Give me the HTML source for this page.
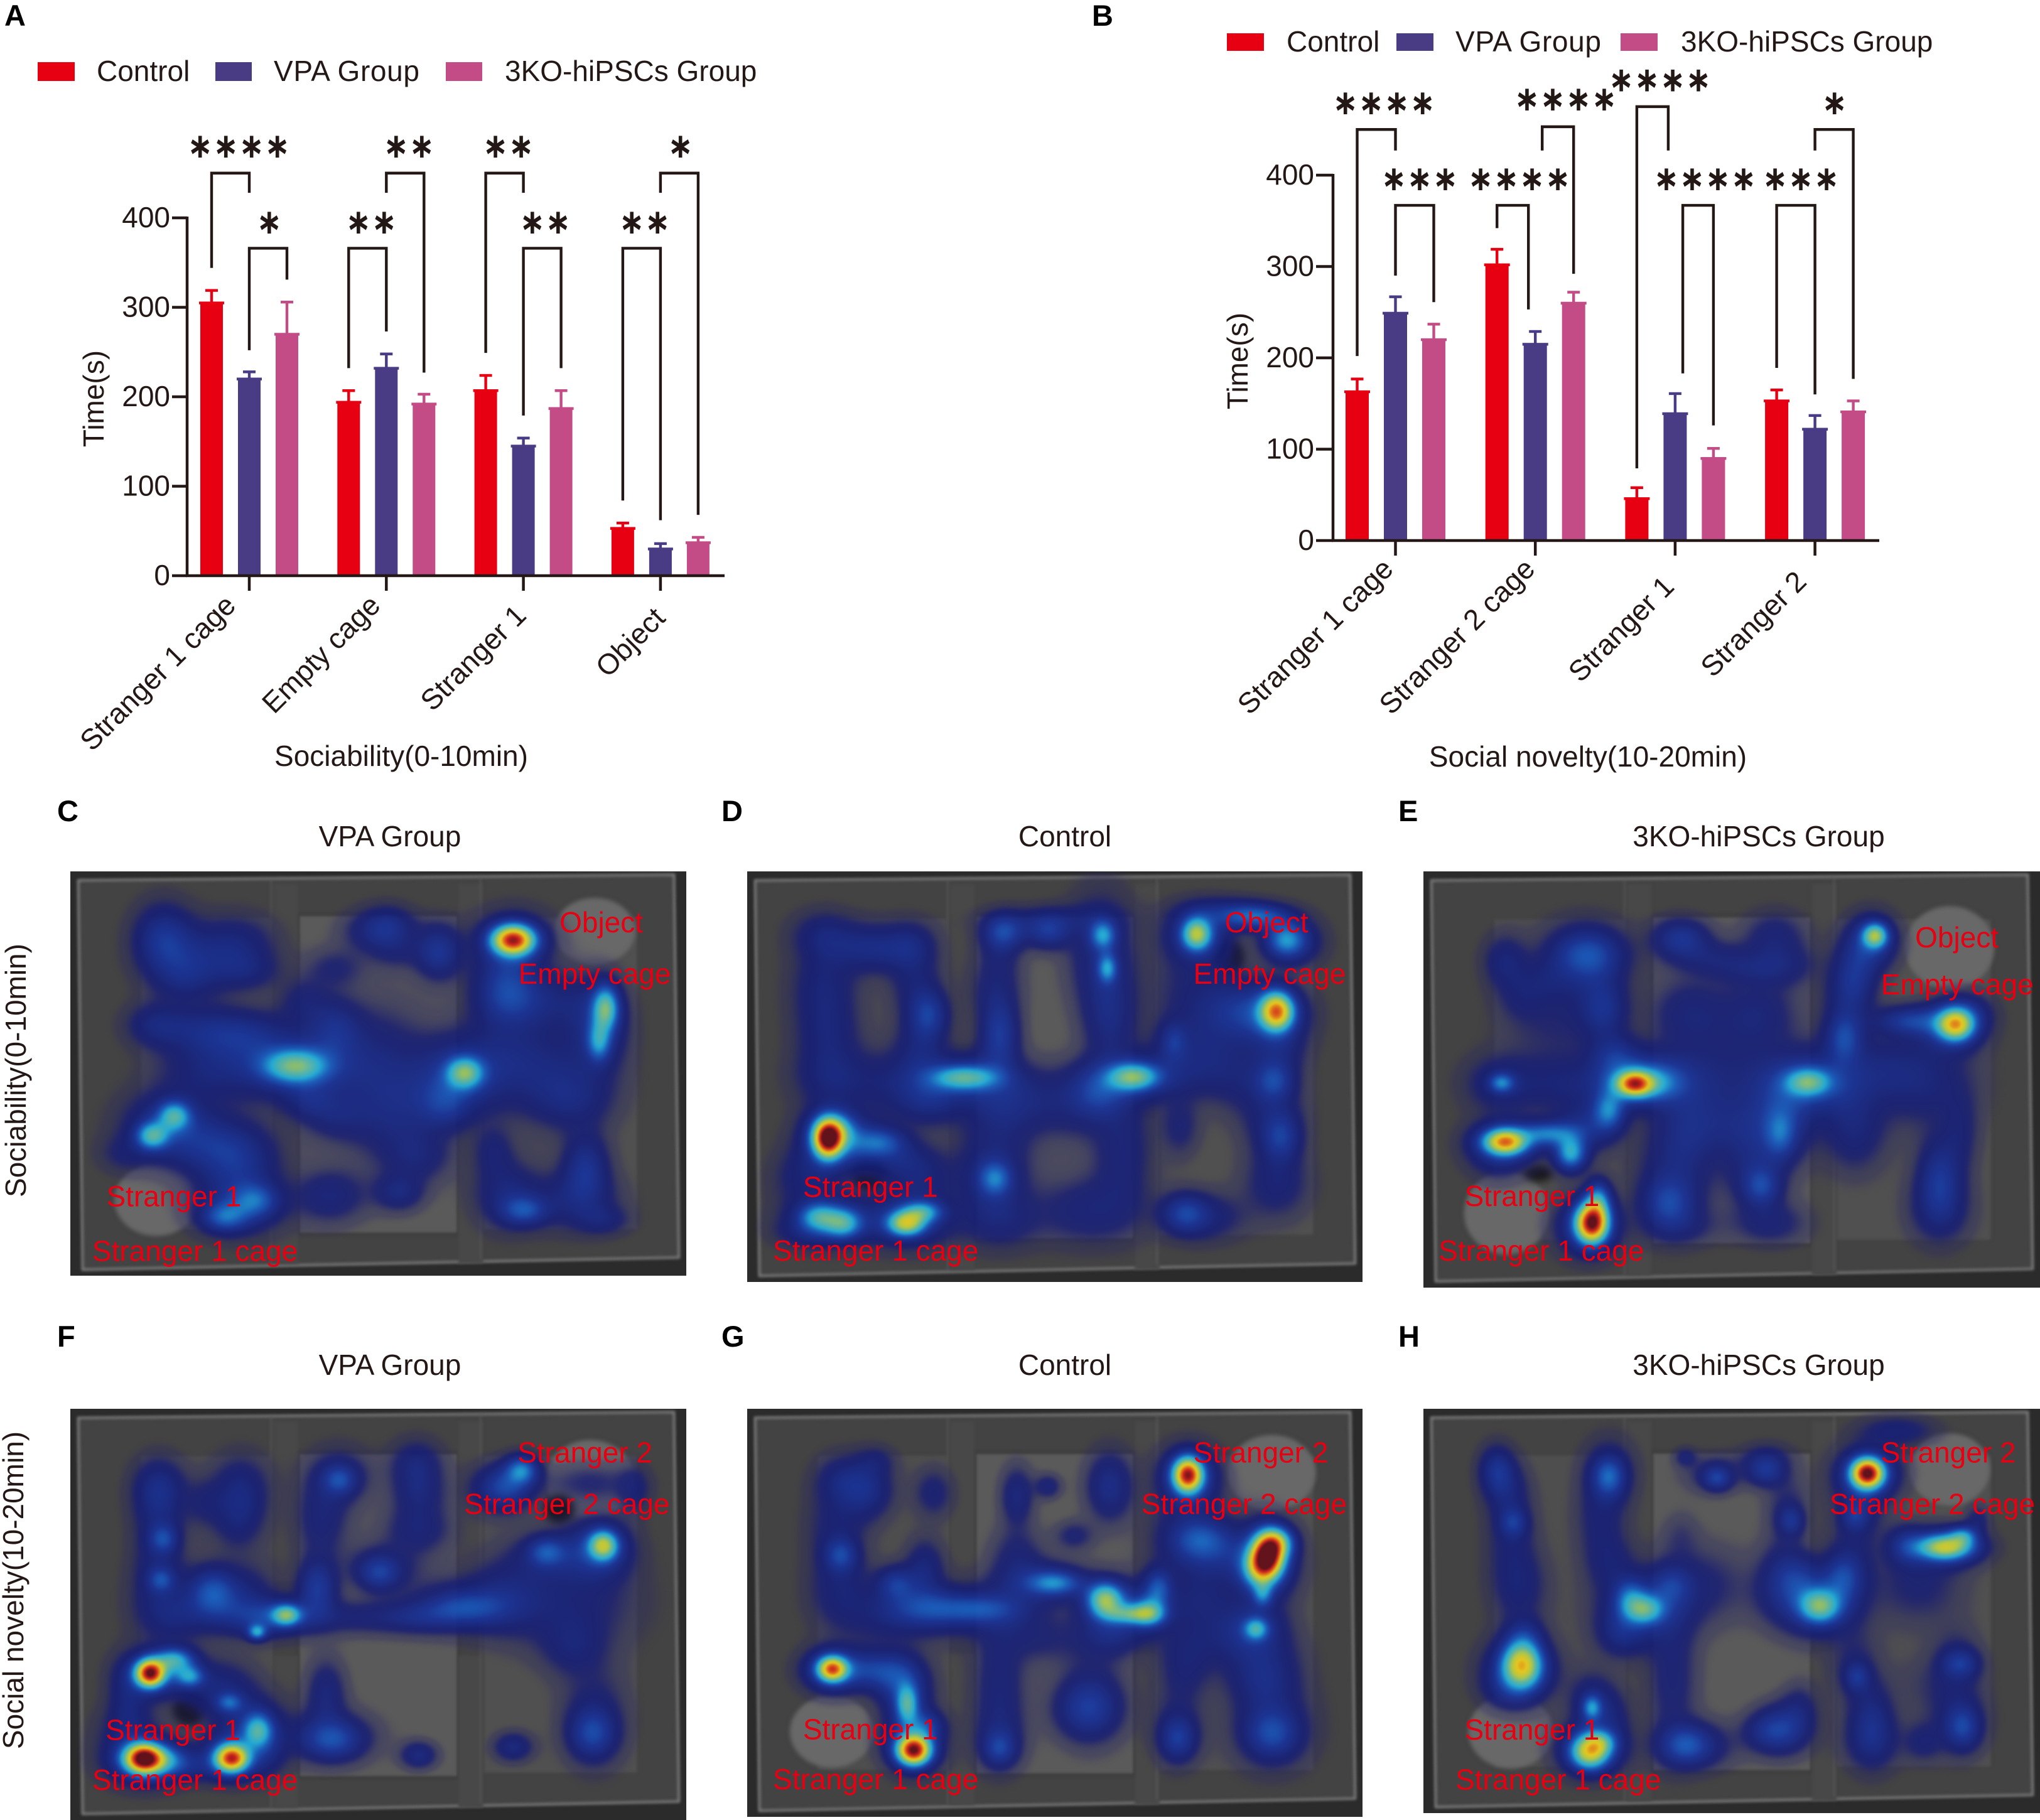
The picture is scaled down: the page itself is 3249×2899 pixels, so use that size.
<!DOCTYPE html>
<html lang="en">
<head>
<meta charset="utf-8">
<title>Sociability and social novelty figure</title>
<style>
html,body{margin:0;padding:0;background:#fff;}
#figure{position:relative;width:3249px;height:2899px;overflow:hidden;background:#fff;}
#figure canvas{position:absolute;display:block;}
#overlay{position:absolute;left:0;top:0;}
text{font-family:"Liberation Sans",sans-serif;fill:#231815;font-size:46px;}
.letter{font-weight:bold;font-size:47px;fill:#000;}
.star{font-family:"DejaVu Sans",sans-serif;font-weight:bold;font-size:72px;letter-spacing:13.6px;text-anchor:middle;stroke:#231815;stroke-width:1px;}
.heat-label{fill:#e60012;text-anchor:middle;}
</style>
</head>
<body>
<div id="figure">
<canvas id="heat-c"></canvas>
<canvas id="heat-d"></canvas>
<canvas id="heat-e"></canvas>
<canvas id="heat-f"></canvas>
<canvas id="heat-g"></canvas>
<canvas id="heat-h"></canvas>
<svg id="overlay" width="3249" height="2899" viewBox="0 0 3249 2899" xmlns="http://www.w3.org/2000/svg">
<text class="letter" x="7" y="41">A</text>
<text class="letter" x="1739" y="41">B</text>
<text class="letter" x="91" y="1308">C</text>
<text class="letter" x="1149" y="1308">D</text>
<text class="letter" x="2227" y="1308">E</text>
<text class="letter" x="91" y="2145">F</text>
<text class="letter" x="1149" y="2145">G</text>
<text class="letter" x="2227" y="2145">H</text>

<g>
<rect x="60" y="99" width="59" height="30" fill="#e60012"/>
<text x="154" y="129">Control</text>
<rect x="343" y="99" width="58" height="30" fill="#493b84"/>
<text x="436" y="129" textLength="232">VPA Group</text>
<rect x="710" y="99" width="58" height="30" fill="#c44c86"/>
<text x="804" y="129">3KO-hiPSCs Group</text>
</g>
<g>
<rect x="1954" y="53" width="59" height="28" fill="#e60012"/>
<text x="2049" y="82">Control</text>
<rect x="2224" y="53" width="59" height="28" fill="#493b84"/>
<text x="2318" y="82" textLength="232">VPA Group</text>
<rect x="2581" y="53" width="59" height="28" fill="#c44c86"/>
<text x="2677" y="82">3KO-hiPSCs Group</text>
</g>

<text transform="translate(165,635) rotate(-90)" text-anchor="middle">Time(s)</text>
<text x="639" y="1220" text-anchor="middle">Sociability(0-10min)</text>
<text transform="translate(1987,575) rotate(-90)" text-anchor="middle">Time(s)</text>
<text x="2529" y="1221" text-anchor="middle">Social novelty(10-20min)</text>

<text x="621" y="1348" text-anchor="middle">VPA Group</text>
<text x="1696" y="1348" text-anchor="middle">Control</text>
<text x="2801" y="1348" text-anchor="middle">3KO-hiPSCs Group</text>
<text x="621" y="2190" text-anchor="middle">VPA Group</text>
<text x="1696" y="2190" text-anchor="middle">Control</text>
<text x="2801" y="2190" text-anchor="middle">3KO-hiPSCs Group</text>
<text transform="translate(41,1705) rotate(-90)" text-anchor="middle">Sociability(0-10min)</text>
<text transform="translate(37,2533) rotate(-90)" text-anchor="middle">Social novelty(10-20min)</text>
</svg>
</div>

<script>
/* ---------- Bar chart data ---------- */
const yTicks = [0, 100, 200, 300, 400];
const seriesColors = ['#e60012', '#493b84', '#c44c86'];
const seriesNames = ['control', 'vpa', '3ko'];

const categoriesA = ['Stranger 1 cage', 'Empty cage', 'Stranger 1', 'Object'];
const controlA = [305, 194, 207, 53];
const vpaA = [220, 232, 145, 30];
const koA = [270, 192, 187, 37];
const controlTopA = [319, 207, 224, 59];
const vpaTopA = [228, 248, 154, 36];
const koTopA = [306, 203, 207, 43];
/* group, from bar, to bar, bracket value, from-leg value, to-leg value, stars, star bar position, star value */
const comparisonsA = [
  [0, 0, 1, 450, 344, 428, '****', 0.76, 479],
  [0, 1, 2, 366, 252, 331, '*', 1.57, 394],
  [1, 0, 1, 366, 232, 273, '**', 0.64, 394],
  [1, 1, 2, 450, 428, 227, '**', 1.64, 479],
  [2, 0, 1, 450, 249, 428, '**', 0.64, 479],
  [2, 1, 2, 366, 179, 232, '**', 1.62, 394],
  [3, 0, 1, 366, 84, 62, '**', 0.62, 394],
  [3, 1, 2, 450, 428, 68, '*', 1.57, 479]
];

const categoriesB = ['Stranger 1 cage', 'Stranger 2 cage', 'Stranger 1', 'Stranger 2'];
const controlB = [163, 302, 46, 153];
const vpaB = [249, 215, 139, 122];
const koB = [220, 260, 90, 141];
const controlTopB = [177, 319, 58, 165];
const vpaTopB = [267, 229, 161, 137];
const koTopB = [237, 272, 101, 153];
const comparisonsB = [
  [0, 0, 1, 450, 202, 427, '****', 0.74, 478],
  [0, 1, 2, 367, 290, 261, '***', 1.67, 395],
  [1, 0, 0.82, 367, 342, 253, '****', 0.62, 395],
  [1, 1.18, 2, 453, 427, 292, '****', 1.83, 482],
  [2, 0, 0.82, 475, 79, 427, '****', 0.64, 503],
  [2, 1.2, 2, 367, 183, 126, '****', 1.82, 395],
  [3, 0, 1, 367, 189, 160, '***', 0.67, 395],
  [3, 1, 2, 450, 427, 177, '*', 1.55, 478]
];

/* ---------- Heatmap data: [x, y, spreadX, spreadY, intensity] in arena units ---------- */
const hotspotsC = [
[370,460,45,70,.17],[440,520,70,70,.1],[540,480,60,60,.1],[420,580,50,50,.08],[560,560,50,40,.08],
[350,720,45,45,.1],[450,730,70,50,.1],[560,750,70,50,.12],[480,850,80,70,.11],
[670,845,50,35,.42],[670,845,90,70,.17],[760,730,40,60,.12],
[395,995,25,30,.35],[345,1055,25,28,.38],[380,1020,70,70,.15],[480,1080,80,60,.13],[540,1150,60,70,.14],[280,1110,40,40,.06],
[580,1250,35,35,.2],[510,1300,35,30,.22],[540,1270,70,60,.13],
[850,440,50,45,.1],[885,420,40,40,.1],[995,500,35,55,.18],[900,500,40,40,.06],[760,550,45,40,.07],[690,650,40,50,.08],
[850,830,80,120,.1],[900,1000,70,100,.1],[700,950,40,40,.08],[760,1000,50,50,.08],[750,1235,55,55,.11],[905,1225,38,38,.12],[950,1120,50,50,.08],
[1165,465,32,30,.95],[1165,465,60,60,.15],[1150,640,50,60,.17],[1150,560,50,60,.1],
[1375,670,20,45,.45],[1360,770,18,40,.28],[1360,720,45,90,.15],
[1055,865,28,32,.42],[1040,880,70,80,.17],[1010,960,40,50,.12],
[1250,650,70,60,.1],[1150,800,80,80,.08],[1250,880,90,90,.1],[1300,950,60,60,.08],
[1330,1150,35,70,.17],[1190,1280,35,30,.2],[1150,1230,50,70,.12],[1300,1250,70,60,.11],[1370,1310,40,30,.08],[1120,1100,30,50,.08]
];
const hotspotsD = [
[300,450,50,50,.1],[410,490,60,50,.14],[500,480,40,50,.1],[300,600,50,80,.1],[310,750,50,80,.1],[320,880,60,60,.1],[540,690,30,50,.18],[510,600,40,70,.09],[520,790,40,70,.1],[450,900,60,70,.08],
[310,1065,22,38,.95],[325,1040,30,35,.3],[320,1060,50,65,.2],[430,1075,40,30,.2],[380,1080,60,50,.12],
[260,1180,50,60,.1],[290,1300,30,28,.3],[345,1320,28,30,.33],[310,1310,65,50,.18],
[488,1320,28,25,.55],[525,1285,30,22,.3],[490,1310,70,55,.18],[520,1180,50,60,.1],[470,1130,50,40,.08],[260,1350,50,30,.06],
[620,880,50,25,.35],[620,880,80,50,.16],[700,750,30,70,.2],[540,950,50,50,.12],[710,440,32,35,.2],[810,440,35,35,.18],[935,450,20,30,.3],[945,550,15,30,.28],[930,500,50,120,.12],[700,500,35,60,.08],[690,620,40,60,.08],[950,700,40,100,.12],
[820,400,100,30,.07],[690,1185,25,35,.22],[680,1180,55,70,.12],[700,1000,60,100,.1],[700,1310,60,60,.1],[900,1280,80,70,.1],[980,1100,45,120,.1],[800,950,100,60,.08],[880,1000,60,70,.04],
[1005,878,38,28,.42],[1005,878,90,50,.16],[925,930,40,50,.13],[1095,770,22,40,.13],
[1148,447,22,32,.5],[1150,450,50,55,.18],[1350,465,30,35,.28],[1285,395,50,25,.25],[1370,470,45,50,.13],[1220,380,70,30,.12],
[1330,680,25,38,.75],[1320,690,55,60,.2],[1240,680,60,60,.12],
[1150,620,70,100,.08],[1150,800,70,70,.09],[1250,880,70,70,.08],[1325,890,30,40,.17],[1340,800,40,50,.08],
[1340,1060,30,50,.16],[1320,1000,50,80,.09],[1330,1200,50,70,.1],[1120,1290,35,40,.18],[1170,1300,60,50,.1],[1110,1030,30,60,.08]
];
const hotspotsE = [
[305,530,35,55,.11],[500,510,55,50,.18],[490,500,70,70,.08],[400,590,50,50,.07],[540,680,35,60,.12],[520,620,50,80,.07],[420,720,80,80,.06],[340,640,40,50,.05],
[297,897,20,20,.25],[300,900,60,60,.12],[440,900,60,60,.09],
[610,900,28,25,.7],[590,890,60,50,.25],[650,900,45,35,.2],[550,980,25,40,.28],[565,810,40,40,.13],[680,870,50,50,.07],
[305,1075,32,25,.65],[310,1070,55,40,.24],[460,1110,25,35,.4],[410,1050,45,25,.28],[500,1030,50,50,.15],[290,1120,50,50,.1],
[510,1320,25,40,1.0],[525,1250,20,40,.3],[500,1330,50,60,.2],
[720,460,45,40,.18],[800,520,70,35,.09],[940,450,50,50,.09],[960,540,55,45,.09],[870,560,60,30,.05],
[740,680,60,70,.09],[900,680,60,70,.09],[830,880,120,120,.1],[720,900,60,60,.05],[730,1050,50,90,.09],[690,1260,40,50,.16],[700,1200,60,100,.1],[720,1330,60,40,.06],[910,1210,30,40,.18],[890,1150,50,80,.1],[930,1320,60,45,.09],[840,1030,70,60,.07],
[1020,895,35,28,.35],[1020,895,70,60,.16],[1105,760,30,50,.2],[955,1050,25,50,.17],[960,1000,50,90,.14],
[1178,452,20,25,.48],[1170,470,40,55,.2],[1130,570,35,70,.15],[1110,650,40,70,.08],[1130,1050,50,80,.1],[1100,900,60,80,.08],
[1368,720,28,32,.62],[1360,725,50,50,.22],[1260,710,55,30,.2],[1400,680,40,40,.08],
[1300,900,80,90,.1],[1200,850,70,70,.08],[1330,1180,35,80,.17],[1330,1280,50,70,.1],[1380,1050,30,80,.07]
];
const hotspotsF = [
[360,550,40,60,.12],[370,710,22,30,.17],[360,640,40,80,.09],[365,835,20,25,.16],[360,800,40,80,.08],
[545,560,45,70,.12],[540,660,40,60,.08],[460,600,30,50,.06],
[480,870,35,50,.18],[490,900,50,60,.1],[650,942,22,22,.43],[583,995,14,16,.32],[610,950,60,40,.17],[720,860,30,60,.2],[560,880,50,70,.08],
[400,950,50,50,.08],[360,900,50,80,.06],
[340,1120,22,28,1.0],[395,1080,30,25,.35],[430,1130,22,22,.28],[360,1120,55,50,.2],
[290,1200,30,80,.1],[520,1210,20,20,.2],[500,1170,55,60,.12],[290,1300,50,60,.08],
[585,1295,22,35,.34],[570,1270,50,60,.12],[525,1380,25,28,.85],[530,1370,48,50,.22],[325,1380,28,30,.9],[355,1385,45,30,.3],[330,1390,60,50,.2],[440,1410,60,30,.07],
[610,1350,30,60,.08],
[770,530,25,30,.16],[770,520,50,60,.1],[730,650,40,80,.1],[945,480,40,50,.11],[950,570,40,50,.1],[950,680,50,50,.1],[860,815,32,35,.16],[870,790,60,50,.08],
[800,950,150,35,.09],[1055,920,60,35,.15],[1050,910,100,60,.09],[950,950,60,30,.06],[1150,880,60,80,.08],
[740,1180,30,70,.11],[755,1325,45,40,.17],[745,1310,70,55,.1],[950,1370,28,28,.13],[1165,1345,30,30,.13],
[1185,500,25,30,.3],[1150,550,40,45,.16],[1130,560,50,50,.09],[1340,540,70,40,.07],[1440,560,25,50,.08],
[1370,730,22,30,.52],[1360,740,50,60,.2],[1240,750,28,30,.18],[1250,760,60,50,.09],[1300,900,100,100,.09],[1300,1040,50,60,.08],[1345,1305,35,50,.18],[1350,1250,50,100,.09]
];
const hotspotsG = [
[400,560,40,60,.14],[340,530,40,50,.09],[420,470,30,30,.06],[340,760,25,35,.17],[330,680,45,100,.09],[340,880,50,80,.09],[550,570,30,50,.09],[530,800,30,60,.12],
[465,845,30,35,.18],[530,920,60,40,.16],[650,925,60,30,.17],[590,930,90,60,.09],[440,950,60,60,.07],
[320,1107,22,25,.75],[320,1110,45,45,.25],[410,1110,50,40,.17],[470,1130,40,50,.13],
[490,1215,17,40,.35],[490,1200,40,70,.15],[505,1355,25,30,1.0],[505,1340,45,55,.2],[530,1280,30,30,.15],
[740,580,25,60,.12],[810,550,20,25,.1],[950,550,35,70,.15],[870,700,30,30,.08],[740,760,40,60,.08],
[825,845,40,25,.25],[800,840,70,45,.13],[730,930,60,60,.07],[700,1150,40,120,.1],[700,1350,25,35,.15],[700,1320,40,70,.08],[900,1230,50,60,.16],[910,1180,50,100,.07],[800,1020,60,50,.06],
[940,895,28,35,.52],[1000,940,40,20,.32],[1040,935,25,30,.33],[1060,860,22,40,.22],[990,920,70,60,.15],[950,1000,50,50,.1],
[1128,515,22,35,.92],[1130,520,45,60,.22],
[1160,710,45,40,.18],[1130,700,60,90,.1],[1190,770,60,50,.1],[1160,890,50,50,.07],
[1310,760,25,45,.95],[1290,800,25,40,.4],[1330,720,25,30,.4],[1300,780,50,80,.22],[1298,880,15,25,.22],[1283,985,18,22,.3],[1280,980,45,50,.12],
[1200,1000,80,70,.09],[1300,1080,60,70,.08],[1105,1320,28,45,.16],[1105,1280,40,80,.07],[1320,1305,40,50,.17],[1320,1280,65,90,.1],[1300,1150,50,60,.08],[1120,1100,40,70,.08]
];
const hotspotsH = [
[285,500,28,50,.16],[310,560,35,60,.08],[325,660,22,30,.14],[320,700,40,100,.08],[340,860,45,80,.09],[550,520,25,40,.2],[550,510,42,70,.11],[530,650,40,80,.08],[550,780,40,60,.08],
[635,925,30,30,.35],[600,890,25,40,.2],[630,920,70,70,.16],[700,850,30,40,.11],[580,1000,40,50,.11],
[345,1095,30,45,.62],[340,1110,55,65,.22],[350,1010,30,40,.13],[310,1170,40,40,.07],
[510,1225,15,25,.26],[510,1210,35,60,.13],[505,1360,30,35,.6],[530,1330,25,25,.25],[510,1350,55,55,.18],[560,1250,30,60,.07],
[730,460,18,20,.08],[805,525,22,25,.16],[920,505,30,30,.16],[800,510,50,40,.08],[920,460,40,30,.08],[980,655,20,30,.13],[970,620,35,80,.07],[720,700,30,50,.04],
[760,850,80,80,.08],[960,800,40,60,.07],[730,1340,40,40,.18],[760,1340,60,50,.1],[700,1130,40,150,.09],[960,1290,45,50,.18],[1000,1220,30,50,.07],[920,1300,40,40,.08],
[1048,915,32,35,.42],[1040,915,65,65,.17],[1100,830,30,50,.15],[1000,830,40,50,.11],[960,880,50,60,.06],
[1160,510,25,30,1.0],[1160,510,50,55,.22],[1230,380,60,30,.1],[1130,640,22,30,.12],[1140,620,40,70,.09],[1120,800,40,80,.09],
[1345,735,42,25,.5],[1385,700,22,20,.25],[1340,735,60,40,.22],[1250,730,30,40,.13],[1420,650,20,30,.08],
[1280,850,70,80,.08],[1135,1130,20,30,.13],[1130,1100,40,80,.07],[1380,1090,30,30,.14],[1370,1080,40,70,.07],[1170,1270,35,80,.13],[1170,1330,50,60,.07],[1385,1285,28,45,.18],[1370,1250,50,80,.08],[1290,1330,30,40,.08],[1300,1150,60,60,.03]
];
/* cage/cylinder outlines in arena units */
const cagesC = [[355,1250,95,108],[1350,440,92,100]];
const cagesD = [];
const cagesE = [[310,1290,100,125],[1355,490,105,125]];
const cagesF = [[1340,530,100,120]];
const cagesG = [[320,1300,95,110],[1320,510,100,115]];
const cagesH = [[320,1300,100,112],[1355,500,95,110]];
/* dark shadows near cages */
const shadowsC = [];
const shadowsD = [[405,1175,40,50],[1225,520,32,55]];
const shadowsE = [[385,1170,35,25]];
const shadowsF = [[430,1230,38,50],[1270,620,35,45]];
const shadowsG = [];
const shadowsH = [];
const labelsC = [['Object',1365,440],['Empty cage',1350,595],['Stranger 1',395,1265],['Stranger 1 cage',443,1430]];
const labelsD = [['Object',1308,440],['Empty cage',1315,595],['Stranger 1',408,1238],['Stranger 1 cage',420,1430]];
const labelsE = [['Object',1372,485],['Empty cage',1373,627],['Stranger 1',370,1265],['Stranger 1 cage',392,1430]];
const labelsF = [['Stranger 2',1328,475],['Stranger 2 cage',1287,632],['Stranger 1',393,1320],['Stranger 1 cage',443,1472]];
const labelsG = [['Stranger 2',1295,475],['Stranger 2 cage',1257,632],['Stranger 1',408,1320],['Stranger 1 cage',420,1472]];
const labelsH = [['Stranger 2',1352,475],['Stranger 2 cage',1314,632],['Stranger 1',370,1320],['Stranger 1 cage',432,1472]];

/* ---------- Helpers ---------- */
const svg = document.getElementById('overlay');
const NS = 'http://www.w3.org/2000/svg';
function make(tag, attrs, parent) {
  const e = document.createElementNS(NS, tag);
  for (const k in attrs) e.setAttribute(k, attrs[k]);
  (parent || svg).appendChild(e);
  return e;
}

function drawBarChart(cfg) {
  const root = make('g', {});
  
  
  const y = v => cfg.y0 - v * cfg.perUnit;
  const barX = (g, b) => cfg.groupX0 + g * cfg.groupStep + (b - 1) * cfg.barStep;
  const ink = '#231815';

  cfg.series.forEach((vals, s) => {
    vals.forEach((v, g) => {
      const cx = barX(g, s);
      const top = y(v);
      const errTop = y(cfg.tops[s][g]);
      const stem = make('rect', {x: cx - 2.2, y: errTop, width: 4.4, height: top - errTop, fill: seriesColors[s]}, root);
      
      
      const cap = make('rect', {x: cx - cfg.capW / 2, y: errTop - 2, width: cfg.capW, height: 4.4, fill: seriesColors[s]}, root);
      
      
      const bar = make('rect', {x: cx - cfg.barW / 2, y: top, width: cfg.barW, height: cfg.y0 - top, fill: seriesColors[s]}, root);
      
      
      const lip = make('rect', {x: cx - cfg.barW / 2 - 2, y: top - 2, width: cfg.barW + 4, height: 4.4, fill: seriesColors[s]}, root);
      
      
    });
  });

  const yAxis = make('line', {x1: cfg.axisX, x2: cfg.axisX, y1: y(400) - 2, y2: cfg.y0 + 2, stroke: ink, 'stroke-width': 4.5}, root);
  
  
  const xAxis = make('line', {x1: cfg.axisX - 2, x2: cfg.axisEnd, y1: cfg.y0, y2: cfg.y0, stroke: ink, 'stroke-width': 4.5}, root);
  
  

  yTicks.forEach(t => {
    const tk = make('line', {x1: cfg.axisX - cfg.tickLen, x2: cfg.axisX, y1: y(t), y2: y(t), stroke: ink, 'stroke-width': 4.5}, root);
    
    
    const lb = make('text', {x: cfg.axisX - cfg.tickLen - 3, y: y(t) + 15, 'text-anchor': 'end'}, root);
    lb.textContent = t;
    
    
  });

  cfg.categories.forEach((c, g) => {
    const cx = barX(g, 1);
    const tk = make('line', {x1: cx, x2: cx, y1: cfg.y0, y2: cfg.y0 + 24, stroke: ink, 'stroke-width': 4.5}, root);
    
    
    const lb = make('text', {'text-anchor': 'end', transform: 'translate(' + (cx + cfg.labelDx[g]) + ',' + (cfg.y0 + cfg.labelDy[g]) + ') rotate(-45)'}, root);
    lb.textContent = c;
    
    
  });

  cfg.comparisons.forEach(cmp => {
    const xa = barX(cmp[0], cmp[1]);
    const xb = barX(cmp[0], cmp[2]);
    const p = make('path', {d: 'M' + xa + ' ' + y(cmp[4]) + 'V' + y(cmp[3]) + 'H' + xb + 'V' + y(cmp[5]), fill: 'none', stroke: ink, 'stroke-width': 4.4}, root);
    
    
    const st = make('text', {class: 'star', transform: 'translate(' + (barX(cmp[0], cmp[7]) + 3) + ',' + (y(cmp[8]) + cfg.starDy) + ') scale(.8,1)'}, root);
    st.textContent = cmp[6];
    
    
  });
}

drawBarChart({
  name: 'bar-chart-sociability',
  categories: categoriesA,
  series: [controlA, vpaA, koA],
  tops: [controlTopA, vpaTopA, koTopA],
  comparisons: comparisonsA,
  y0: 917, perUnit: 1.425, axisX: 298, axisEnd: 1154, tickLen: 24,
  groupX0: 397, groupStep: 218.3, barStep: 60, barW: 36, capW: 20,
  labelDx: [-19, -7, 7, 10], labelDy: [50, 50, 66, 70],
  starDy: 36
});
drawBarChart({
  name: 'bar-chart-social-novelty',
  categories: categoriesB,
  series: [controlB, vpaB, koB],
  tops: [controlTopB, vpaTopB, koTopB],
  comparisons: comparisonsB,
  y0: 861, perUnit: 1.455, axisX: 2123, axisEnd: 2993, tickLen: 27,
  groupX0: 2222.5, groupStep: 222.7, barStep: 61, barW: 37, capW: 20,
  labelDx: [-1, 2, 1, -11], labelDy: [48, 48, 76, 68],
  starDy: 36
});

/* ---------- Heatmaps ---------- */
const colorStops = [
  [0, 40, 34, 100], [.1, 20, 30, 120], [.2, 20, 48, 156], [.3, 20, 92, 198], [.42, 30, 182, 230],
  [.52, 100, 195, 170], [.62, 190, 215, 70], [.72, 250, 215, 25], [.82, 240, 110, 20], [.9, 220, 30, 20], [1, 100, 10, 20]
];
function colorAt(d) {
  d = d < .45 ? d : .45 + (d - .45) * .75;
  d = Math.min(1, d);
  for (let i = 1; i < colorStops.length; i++) {
    if (d <= colorStops[i][0]) {
      const a = colorStops[i - 1], b = colorStops[i];
      const t = (d - a[0]) / (b[0] - a[0]);
      return [a[1] + (b[1] - a[1]) * t, a[2] + (b[2] - a[2]) * t, a[3] + (b[3] - a[3]) * t];
    }
  }
  return colorStops[colorStops.length - 1].slice(1);
}
function smooth(v) {
  const t = Math.min(1, Math.max(0, v));
  return t * t * (3 - 2 * t);
}

function drawArena(ctx, w, h) {
  const X = f => f * w, Y = f => f * h;
  ctx.fillStyle = '#2b2b2b';
  ctx.fillRect(0, 0, w, h);
  ctx.save();
  ctx.filter = 'blur(2px)';
  ctx.beginPath();
  ctx.moveTo(X(.013), Y(.022)); ctx.lineTo(X(.98), Y(.008)); ctx.lineTo(X(.988), Y(.955)); ctx.lineTo(X(.02), Y(.985)); ctx.closePath();
  ctx.fillStyle = '#434343';
  ctx.fill();
  ctx.lineWidth = 4;
  ctx.strokeStyle = '#7c7c7c';
  ctx.stroke();
  /* chamber floors */
  ctx.fillStyle = '#4e4e4e';
  ctx.fillRect(X(.115), Y(.115), X(.21), Y(.77));
  ctx.fillStyle = '#5a5a5a';
  ctx.fillRect(X(.37), Y(.107), X(.26), Y(.79));
  ctx.fillStyle = '#505050';
  ctx.fillRect(X(.67), Y(.115), X(.25), Y(.77));
  ctx.strokeStyle = '#353535';
  ctx.lineWidth = 3;
  ctx.strokeRect(X(.37), Y(.107), X(.26), Y(.79));
  /* dividing walls */
  ctx.fillStyle = '#484848';
  [.33, .63].forEach(p => {
    ctx.fillRect(X(p), Y(.03), X(.04), Y(.39));
    ctx.fillRect(X(p), Y(.6), X(.04), Y(.37));
  });
  ctx.fillStyle = '#5c5c5c';
  ctx.fillRect(X(.325), Y(.02), 2, Y(.95));
  ctx.fillRect(X(.665), Y(.01), 2, Y(.95));
  ctx.restore();
}

function drawHeatmap(cfg) {
  const canvas = document.getElementById(cfg.id);
  const pos = cfg.box;
  canvas.width = pos[2];
  canvas.height = pos[3];
  canvas.style.left = pos[0] + 'px';
  canvas.style.top = pos[1] + 'px';
  canvas.style.width = pos[2] + 'px';
  canvas.style.height = pos[3] + 'px';
  const ctx = canvas.getContext('2d');
  const ext = cfg.extent;
  const sx = pos[2] / (ext[1] - ext[0]);
  const sy = pos[3] / (ext[3] - ext[2]);
  drawArena(ctx, pos[2], pos[3]);

  cfg.cages.forEach(c => {
    ctx.save();
    ctx.filter = 'blur(3px)';
    ctx.beginPath();
    ctx.ellipse((c[0] - ext[0]) * sx, (c[1] - ext[2]) * sy, c[2] * sx, c[3] * sy, 0, 0, Math.PI * 2);
    ctx.fillStyle = '#686868';
    ctx.fill();
    ctx.restore();
  });
  cfg.shadows.forEach(c => {
    ctx.save();
    ctx.filter = 'blur(7px)';
    ctx.beginPath();
    ctx.ellipse((c[0] - ext[0]) * sx, (c[1] - ext[2]) * sy, c[2] * sx, c[3] * sy, 0, 0, Math.PI * 2);
    ctx.fillStyle = '#151515';
    ctx.fill();
    ctx.restore();
  });

  const scale = 2;
  const W = Math.ceil(pos[2] / scale), H = Math.ceil(pos[3] / scale);
  const field = new Float32Array(W * H);
  cfg.spots.forEach(s => {
    const px = (s[0] - ext[0]) * sx / scale, py = (s[1] - ext[2]) * sy / scale;
    const rx = s[2] * sx / scale, ry = s[3] * sy / scale;
    const x0 = Math.max(0, Math.floor(px - 3.6 * rx)), x1 = Math.min(W - 1, Math.ceil(px + 3.6 * rx));
    const y0 = Math.max(0, Math.floor(py - 3.6 * ry)), y1 = Math.min(H - 1, Math.ceil(py + 3.6 * ry));
    for (let j = y0; j <= y1; j++) {
      const dy = (j - py) / ry;
      for (let i = x0; i <= x1; i++) {
        const dx = (i - px) / rx;
        field[j * W + i] += s[4] * Math.exp(-.5 * (dx * dx + dy * dy));
      }
    }
  });
  const off = document.createElement('canvas');
  off.width = W; off.height = H;
  const octx = off.getContext('2d');
  const img = octx.createImageData(W, H);
  for (let k = 0; k < field.length; k++) {
    const d = field[k];
    const a = .32 * smooth((d - .005) / .018) + .56 * smooth((d - .022) / .055);
    const c = colorAt(d);
    img.data[k * 4] = c[0];
    img.data[k * 4 + 1] = c[1];
    img.data[k * 4 + 2] = c[2];
    img.data[k * 4 + 3] = a * 255;
  }
  octx.putImageData(img, 0, 0);
  ctx.imageSmoothingEnabled = true;
  ctx.imageSmoothingQuality = 'high';
  ctx.drawImage(off, 0, 0, pos[2], pos[3]);

  cfg.labels.forEach(l => {
    const t = make('text', {class: 'heat-label', x: pos[0] + (l[1] - ext[0]) * sx, y: pos[1] + (l[2] - ext[2]) * sy + 2});
    t.textContent = l[0];
    
    
  });
}

drawHeatmap({id: 'heat-c', box: [112, 1388, 981, 644], extent: [160, 1558, 260, 1478], spots: hotspotsC, cages: cagesC, shadows: shadowsC, labels: labelsC});
drawHeatmap({id: 'heat-d', box: [1190, 1388, 980, 654], extent: [128, 1526, 260, 1498], spots: hotspotsD, cages: cagesD, shadows: shadowsD, labels: labelsD});
drawHeatmap({id: 'heat-e', box: [2267, 1388, 982, 663], extent: [114, 1568, 260, 1515], spots: hotspotsE, cages: cagesE, shadows: shadowsE, labels: labelsE});
drawHeatmap({id: 'heat-f', box: [112, 2244, 981, 655], extent: [160, 1558, 315, 1568], spots: hotspotsF, cages: cagesF, shadows: shadowsF, labels: labelsF});
drawHeatmap({id: 'heat-g', box: [1190, 2244, 980, 650], extent: [128, 1526, 315, 1560], spots: hotspotsG, cages: cagesG, shadows: shadowsG, labels: labelsG});
drawHeatmap({id: 'heat-h', box: [2267, 2244, 982, 644], extent: [114, 1568, 315, 1548], spots: hotspotsH, cages: cagesH, shadows: shadowsH, labels: labelsH});
</script>
</body>
</html>
